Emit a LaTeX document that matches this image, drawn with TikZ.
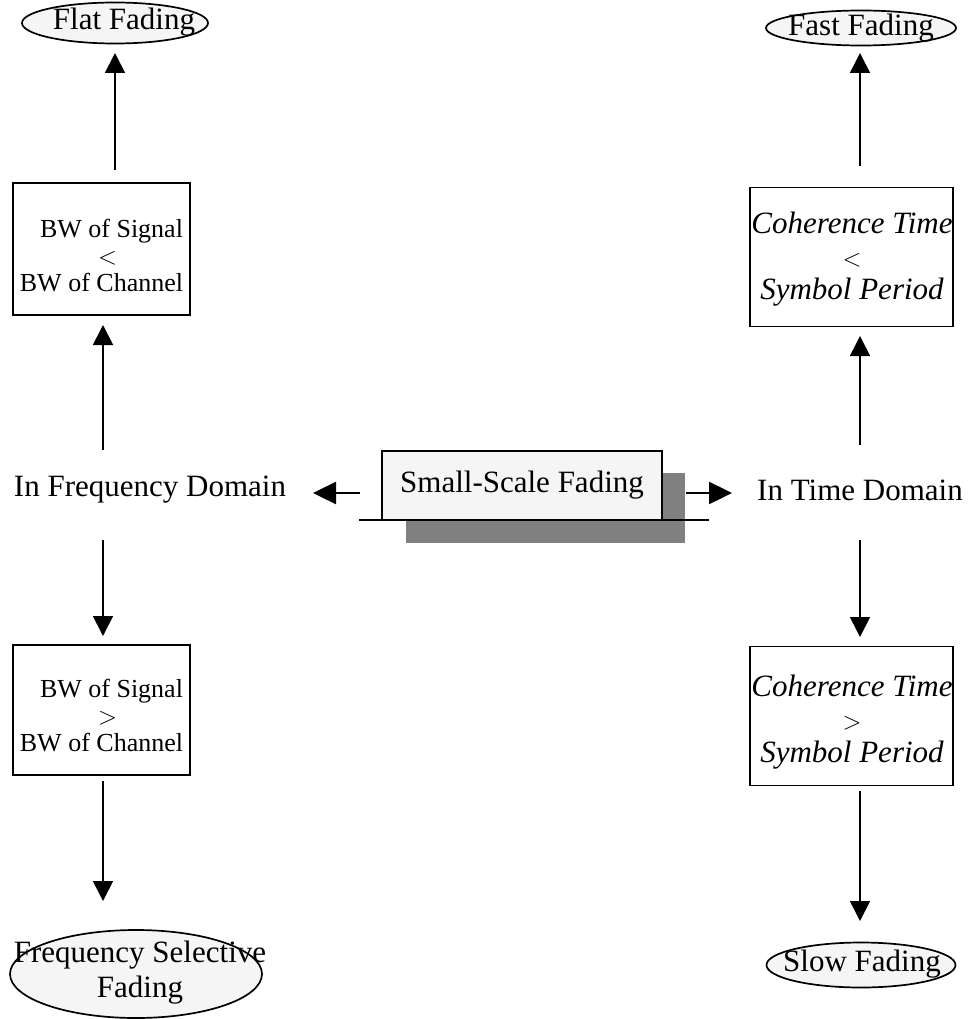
\documentclass[tikz,border=0pt]{standalone}
\usepackage{fontspec}
\setmainfont{Liberation Serif}
\usetikzlibrary{arrows.meta,shapes.geometric}
\begin{document}
\begin{tikzpicture}[x=1pt,y=-1pt,
  lw/.style={line width=1.7pt},
  ell/.style={ellipse,draw,lw,fill=black!4,inner sep=0pt},
  etxt/.style={inner sep=0pt,align=center,font=\fontsize{31}{35}\selectfont},
  cbox/.style={draw,lw,inner sep=0pt},
  ltxt/.style={inner sep=0pt,align=center,font=\fontsize{26}{27}\selectfont},
  rtxt/.style={inner sep=0pt,align=center,font=\fontsize{31}{33}\selectfont},
  lbl/.style={inner sep=0pt,font=\fontsize{31}{36}\selectfont},
  arr/.style={lw,-{Triangle[width=20pt,length=20pt]}},
  harr/.style={line width=2.4pt,-{Triangle[width=22pt,length=23pt]}}]
\useasboundingbox (0,0) rectangle (967,1019);
% left column
\node[ell,minimum width=186pt,minimum height=41pt] (flat) at (115,23) {};
\node[etxt] (flatt) at (124,22) {Flat Fading};
\node[cbox,minimum width=177pt,minimum height=132pt] (b1) at (101.5,249) {};
\node[ltxt] (b1t) at (101.5,256) {\hspace*{20pt}BW of Signal\\\hspace*{12pt}$<$\\BW of Channel};
\node[lbl] (fd) at (150,490) {In Frequency Domain};
\node[cbox,minimum width=177pt,minimum height=130pt] (b2) at (101.5,710) {};
\node[ltxt] (b2t) at (101.5,716) {\hspace*{20pt}BW of Signal\\\hspace*{12pt}$>$\\BW of Channel};
\node[ell,minimum width=252pt,minimum height=88pt] (fsf) at (136,974) {};
\node[etxt] (fsft) at (140,973) {Frequency Selective\\Fading};
% right column
\node[ell,minimum width=190pt,minimum height=35pt] (fast) at (861,28) {};
\node[etxt] (fastt) at (861,28) {Fast Fading};
\node[cbox,minimum width=203pt,minimum height=139pt] (b3) at (851.5,257) {};
\node[rtxt] (b3t) at (852,259) {\itshape Coherence Time\\$<$\\\itshape Symbol Period};
\node[lbl] (td) at (860,490) {In Time Domain};
\node[cbox,minimum width=203pt,minimum height=139pt] (b4) at (851.5,716) {};
\node[rtxt] (b4t) at (852,722) {\itshape Coherence Time\\$>$\\\itshape Symbol Period};
\node[ell,minimum width=189pt,minimum height=45pt] (slow) at (861,965) {};
\node[etxt] (slowt) at (862,964) {Slow Fading};
% centre
\fill[black!50] (406,473) rectangle (685,543);
\node[draw,lw,fill=black!4,minimum width=280pt,minimum height=69pt,inner sep=0pt,
  font=\fontsize{31}{36}\selectfont] (ssf) at (522,485.5) {Small-Scale Fading};
\coordinate (ul) at (359,520);
\coordinate (ur) at (709,520);
\draw[lw] (ul) -- (ur);
% arrow end points
\coordinate (l1s) at (115,170); \coordinate (l1e) at (115,53);
\coordinate (l2s) at (103,450); \coordinate (l2e) at (103,325);
\coordinate (l3s) at (103,540); \coordinate (l3e) at (103,636);
\coordinate (l4s) at (103,781); \coordinate (l4e) at (103,901);
\coordinate (r1s) at (860,166); \coordinate (r1e) at (860,53);
\coordinate (r2s) at (860,445); \coordinate (r2e) at (860,336);
\coordinate (r3s) at (860,540); \coordinate (r3e) at (860,637);
\coordinate (r4s) at (860,791); \coordinate (r4e) at (860,921);
\coordinate (hls) at (360,493); \coordinate (hle) at (313,493);
\coordinate (hrs) at (686,493); \coordinate (hre) at (732,493);
\draw[arr] (l1s) -- (l1e);
\draw[arr] (l2s) -- (l2e);
\draw[arr] (l3s) -- (l3e);
\draw[arr] (l4s) -- (l4e);
\draw[arr] (r1s) -- (r1e);
\draw[arr] (r2s) -- (r2e);
\draw[arr] (r3s) -- (r3e);
\draw[arr] (r4s) -- (r4e);
\draw[harr] (hls) -- (hle);
\draw[harr] (hrs) -- (hre);
\end{tikzpicture}
\end{document}
